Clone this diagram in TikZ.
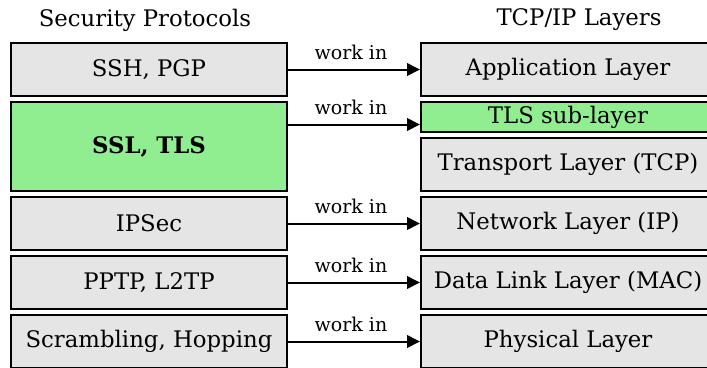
\documentclass[tikz,border=0pt]{standalone}
\usepackage{fontspec}
\setmainfont{DejaVu Serif}
\usetikzlibrary{arrows.meta}
\definecolor{boxgrey}{HTML}{E5E5E5}
\definecolor{boxgreen}{HTML}{90EE90}
\tikzset{
  layerbox/.style={draw=black, line width=2pt, fill=boxgrey, inner sep=0pt,
    font=\fontsize{22.8}{26}\selectfont},
  greenbox/.style={layerbox, fill=boxgreen},
  header/.style={font=\fontsize{22.8}{26}\selectfont, inner sep=0pt},
  workarrow/.style={-{Triangle[length=13pt,width=12.5pt]}, line width=2pt},
  worklabel/.style={font=\fontsize{19}{22}\selectfont, inner sep=0pt, above=9pt, xshift=-3pt}
}
\begin{document}
\begin{tikzpicture}[x=1pt,y=-1pt]
\useasboundingbox (0,0) rectangle (707,367);
\clip (0,0) rectangle (707,367);
% headers
\node[header] (hl) at (145,20) {Security Protocols};
\node[header] (hr) at (579,20) {TCP/IP Layers};
% left column
\node[layerbox, minimum width=276pt, minimum height=53pt] (ssh) at (149,69.5) {SSH, PGP};
\node[greenbox, minimum width=276pt, minimum height=89pt] (ssl) at (149,146.5) {\bfseries SSL, TLS};
\node[layerbox, minimum width=276pt, minimum height=53pt] (ipsec) at (149,223.5) {IPSec};
\node[layerbox, minimum width=276pt, minimum height=53pt] (pptp) at (149,282.5) {PPTP, L2TP};
\node[layerbox, minimum width=276pt, minimum height=53pt] (scr) at (149,341.5) {Scrambling, Hopping};
% right column
\node[layerbox, minimum width=294pt, minimum height=53pt] (app) at (568,69.5) {Application Layer};
\node[greenbox, minimum width=294pt, minimum height=30pt] (tls) at (568,117) {TLS sub-layer};
\node[layerbox, minimum width=294pt, minimum height=53pt] (tcp) at (568,164.5) {Transport Layer (TCP)};
\node[layerbox, minimum width=294pt, minimum height=53pt] (net) at (568,223.5) {Network Layer (IP)};
\node[layerbox, minimum width=294pt, minimum height=53pt] (mac) at (568,282.5) {Data Link Layer (MAC)};
\node[layerbox, minimum width=294pt, minimum height=53pt] (phy) at (568,341.5) {Physical Layer};
% arrows
\coordinate (y2) at (0,124.5);
\draw[workarrow] (ssh.east) -- node[worklabel] {work in} (app.west);
\draw[workarrow] (ssl.east |- y2) -- node[worklabel] {work in} (tls.west |- y2);
\draw[workarrow] (ipsec.east) -- node[worklabel] {work in} (net.west);
\draw[workarrow] (pptp.east) -- node[worklabel] {work in} (mac.west);
\draw[workarrow] (scr.east) -- node[worklabel] {work in} (phy.west);
\end{tikzpicture}
\end{document}
